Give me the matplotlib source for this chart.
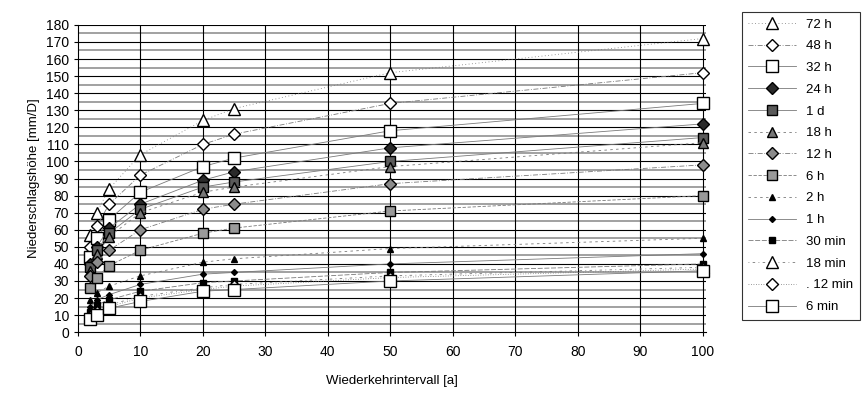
import matplotlib
matplotlib.use("Agg")
import matplotlib.pyplot as plt
from matplotlib.ticker import MultipleLocator

plt.rcParams["font.family"] = ["Liberation Sans", "DejaVu Sans"]

# Wiederkehrintervalle [a]
intervalle = [2, 3, 5, 10, 20, 25, 50, 100]

# Niederschlagshöhen je Dauerstufe [mm]
h_72h = [57, 70, 84, 104, 124, 131, 152, 172]
h_48h = [50, 62, 75, 92, 110, 116, 134, 152]
h_32h = [44, 55, 66, 82, 97, 102, 118, 134]
h_24h = [40, 50, 61, 75, 89, 94, 108, 122]
h_1d = [38, 48, 58, 72, 85, 88, 100, 114]
h_18h = [36, 46, 56, 70, 82, 85, 97, 111]
h_12h = [33, 41, 48, 60, 72, 75, 87, 98]
h_6h = [26, 32, 39, 48, 58, 61, 71, 80]
h_2h = [19, 23, 27, 33, 41, 43, 49, 55]
h_1h = [15, 19, 22, 28, 34, 35, 40, 46]
h_30min = [12, 16, 19, 24, 29, 30, 35, 40]
h_18min = [10, 13, 16, 21, 26, 28, 33, 38]
h_12min = [9, 12, 15, 20, 25, 27, 32, 37]
h_6min = [8, 10, 14, 18, 24, 25, 30, 36]

labels = ["72 h", "48 h", "32 h", "24 h", "1 d", "18 h", "12 h", "6 h",
          "2 h", "1 h", "30 min", "18 min", ". 12 min", "6 min"]

# (Werte, Marker, Größe, Füllung, Linienstil)
reihen = [
    (h_72h, "^", 8, "white", (0, (1, 3))),
    (h_48h, "D", 6, "white", (0, (6, 2, 1, 2))),
    (h_32h, "s", 8, "white", "-"),
    (h_24h, "D", 6, "#2a2a2a", "-"),
    (h_1d, "s", 7, "#5a5a5a", "-"),
    (h_18h, "^", 7, "#777777", (0, (3, 4))),
    (h_12h, "D", 6, "#8c8c8c", (0, (6, 2, 1, 2))),
    (h_6h, "s", 7, "#9a9a9a", (0, (4, 2))),
    (h_2h, "^", 4, "black", (0, (3, 4))),
    (h_1h, "D", 3, "black", "-"),
    (h_30min, "s", 4, "black", (0, (6, 2))),
    (h_18min, "^", 8, "white", (0, (1, 4, 3, 4))),
    (h_12min, "D", 6, "white", (0, (1, 2))),
    (h_6min, "s", 9, "white", "-"),
]

fig = plt.figure(figsize=(8.66, 3.95), dpi=100)
ax = fig.add_axes([0.090, 0.159, 0.725, 0.778])

# Gitter: dunkle Linien alle 10 mm, graue alle 5 mm
for y in range(5, 181, 10):
    ax.axhline(y, color="#9a9a9a", lw=1.3, zorder=0)
for y in range(10, 181, 10):
    ax.axhline(y, color="black", lw=0.8, zorder=0)
for x in range(10, 101, 10):
    ax.axvline(x, color="black", lw=0.8, zorder=0)

for (werte, marker, ms, fc, ls), lab in zip(reihen, labels):
    ax.plot(intervalle, werte, linestyle=ls, color="#7a7a7a", lw=0.6,
            marker=marker, ms=ms, mfc=fc, mec="black", mew=1.0,
            label=lab, clip_on=False, zorder=3)

ax.set_xlim(0, 100.5)
ax.set_ylim(0, 180)
ax.xaxis.set_major_locator(MultipleLocator(10))
ax.yaxis.set_major_locator(MultipleLocator(10))
ax.tick_params(axis="both", labelsize=10, length=3, width=0.8, direction="out")
ax.tick_params(axis="x", pad=6)
for side in ["top", "right"]:
    ax.spines[side].set_visible(False)
ax.spines["left"].set_linewidth(0.8)
ax.spines["bottom"].set_linewidth(0.8)

ax.set_xlabel("Wiederkehrintervall [a]", fontsize=9.5, labelpad=12)
ax.set_ylabel("Niederschlagshöhe [mm/D]", fontsize=9.5, labelpad=4)

leg = ax.legend(loc="upper left", bbox_to_anchor=(0.849, 0.987),
                bbox_transform=fig.transFigure, fontsize=9.5,
                handlelength=3.6, labelspacing=0.72, borderpad=0.5,
                handletextpad=0.8, frameon=True, fancybox=False,
                edgecolor="black")
leg.get_frame().set_linewidth(0.8)

fig.savefig("out.png", dpi=100)
